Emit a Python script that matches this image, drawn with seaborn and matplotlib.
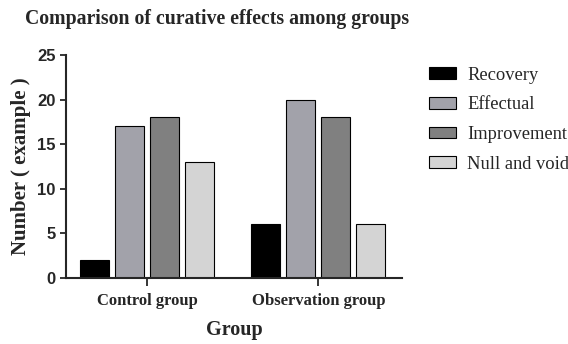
import pandas as pd
import numpy as np
import matplotlib
matplotlib.use("Agg")
import matplotlib.pyplot as plt
import seaborn as sns

# Data
groups = ["Control group", "Observation group"]
outcomes = ["Recovery", "Effectual", "Improvement", "Null and void"]
recovery = [2, 6]
effectual = [17, 20]
improvement = [18, 18]
null_void = [13, 6]

colors = ["#000000", "#a2a2aa", "#808080", "#d4d4d4"]

df = pd.DataFrame({
    "Group": np.repeat(groups, len(outcomes)),
    "Outcome": outcomes * len(groups),
    "Number": [v for pair in zip(recovery, effectual, improvement, null_void) for v in pair],
})

sns.set_style("ticks")
serif = ["Liberation Serif", "DejaVu Serif"]
sans = ["Liberation Sans", "DejaVu Sans"]

fig = plt.figure(figsize=(5.68, 3.44), dpi=100)
ax = fig.add_axes([0.116, 0.192, 0.592, 0.648])

sns.barplot(data=df, x="Group", y="Number", hue="Outcome", hue_order=outcomes,
            palette=colors, width=0.82, gap=0.17, edgecolor="black", linewidth=0.8,
            saturation=1, ax=ax, legend=True)

ax.set_xlim(-0.475, 1.49)
ax.set_ylim(0, 25)
ax.set_yticks([0, 5, 10, 15, 20, 25])
sns.despine(ax=ax)
for s in ["left", "bottom"]:
    ax.spines[s].set_linewidth(1.5)
ax.tick_params(axis="both", width=1.3, length=4, direction="out")
ax.tick_params(axis="x", length=6, pad=5)

for lbl in ax.get_yticklabels():
    lbl.set_fontfamily(sans)
    lbl.set_fontweight("bold")
    lbl.set_fontsize(12)
for lbl in ax.get_xticklabels():
    lbl.set_fontfamily(serif)
    lbl.set_fontweight("bold")
    lbl.set_fontsize(12)

ax.set_ylabel("Number ( example )", fontfamily=serif, fontweight="bold", fontsize=15, labelpad=4)
ax.set_xlabel("Group", fontfamily=serif, fontweight="bold", fontsize=14.5, labelpad=8)

fig.text(0.044, 0.945, "Comparison of curative effects among groups", fontfamily=serif,
         fontweight="bold", fontsize=14.2, va="center", ha="left")

handles, labels = ax.get_legend_handles_labels()
ax.get_legend().remove()
fig.legend(handles, labels, loc="upper left", bbox_to_anchor=(0.726, 0.855), frameon=False,
           prop={"family": serif, "size": 13.3}, handlelength=1.46, handleheight=0.6,
           labelspacing=0.69, handletextpad=0.6)

fig.savefig("out.png", dpi=100)
